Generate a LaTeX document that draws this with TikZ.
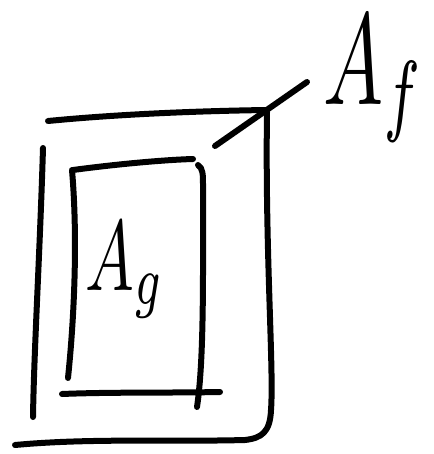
\documentclass[tikz,border=0pt]{standalone}
\usetikzlibrary{positioning}
\begin{document}
\begin{tikzpicture}[x=1pt, y=-1pt,
  stroke/.style={line width=6pt, line cap=round, line join=round},
  label/.style={inner sep=0pt, anchor=base west, transform shape}
]
\useasboundingbox (0,0) rectangle (433,454);

% outer frame
\draw[stroke] (48,121) .. controls (120,114) and (200,111) .. (266,110);
\draw[stroke] (43,148) .. controls (40,250) and (34,350) .. (33,417);
\draw[stroke] (267,112) .. controls (265,250) and (274,370) .. (271,410)
  .. controls (270,432) and (262,438) .. (245,440);
\draw[stroke] (15,445) .. controls (90,438) and (170,442) .. (245,440);

% inner frame
\draw[stroke] (73,170) .. controls (110,165) and (160,160) .. (193,159);
\draw[stroke] (72,170) .. controls (78,240) and (74,320) .. (68,378);
\draw[stroke] (198,165) .. controls (203,168) and (203,175) .. (203,185)
  .. controls (203,280) and (204,360) .. (197,407);
\draw[stroke] (62,394) .. controls (110,392) and (170,393) .. (220,392);

% labels
\node[label, xscale=8, yscale=13] (af) at (322,105) {$A_f$};
\node[label, xscale=6.5, yscale=10] (ag) at (84,290) {$A_g$};

% leader
\coordinate (lead) at (215,146);
\coordinate (tip) at (307,82);
\draw[stroke] (lead) -- (tip);
\end{tikzpicture}
\end{document}
